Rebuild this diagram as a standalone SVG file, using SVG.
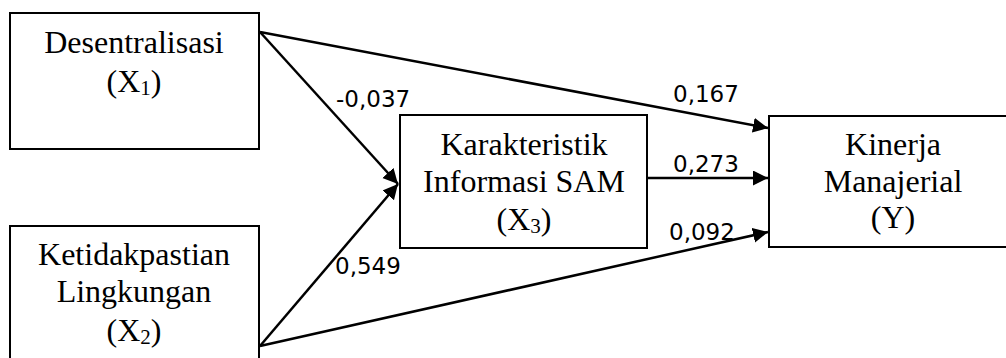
<svg xmlns="http://www.w3.org/2000/svg" width="1006" height="358" viewBox="0 0 1006 358">
<style>
.box{fill:#fff;stroke:#000;stroke-width:2}
.t{font-family:"Liberation Serif","Times New Roman",serif;font-size:32px;fill:#000;text-anchor:middle}
.sub{font-size:21px}
.c{fill:none;stroke:#000;stroke-width:2.5;marker-end:url(#ah)}
.lbl{font-family:"DejaVu Sans",Verdana,sans-serif;font-size:23px;fill:#000}
</style>
<defs>
<marker id="ah" markerUnits="userSpaceOnUse" markerWidth="16" markerHeight="16" refX="15" refY="7.5" orient="auto" viewBox="0 0 16 16">
<path d="M0,0 L15,7.5 L0,15 z" fill="#000"/>
</marker>
</defs>
<rect width="1006" height="358" fill="#fff"/>
<g id="connectors">
<path class="c" d="M260,32 L768,128"/>
<path class="c" d="M260,32 L398,184"/>
<path class="c" d="M260,346 L398,184"/>
<path class="c" d="M260,346 L768,232"/>
<path class="c" d="M648,178 L768,178"/>
<text class="lbl" x="336" y="107">-0,037</text>
<text class="lbl" x="335" y="274">0,549</text>
<text class="lbl" x="673" y="102">0,167</text>
<text class="lbl" x="673" y="172">0,273</text>
<text class="lbl" x="669" y="240">0,092</text>
</g>
<g id="node-x1">
<rect class="box" x="10" y="13" width="249" height="136"/>
<text class="t" x="134" y="53">Desentralisasi</text>
<text class="t" x="134" y="92">(X<tspan class="sub" dy="3">1</tspan><tspan dy="-3">)</tspan></text>
</g>
<g id="node-x2">
<rect class="box" x="10" y="226" width="249" height="145"/>
<text class="t" x="134" y="265">Ketidakpastian</text>
<text class="t" x="134" y="302">Lingkungan</text>
<text class="t" x="134" y="341">(X<tspan class="sub" dy="3">2</tspan><tspan dy="-3">)</tspan></text>
</g>
<g id="node-x3">
<rect class="box" x="400" y="115" width="247" height="133"/>
<text class="t" x="524" y="155">Karakteristik</text>
<text class="t" x="524" y="192">Informasi SAM</text>
<text class="t" x="524" y="230">(X<tspan class="sub" dy="3">3</tspan><tspan dy="-3">)</tspan></text>
</g>
<g id="node-y">
<rect class="box" x="769" y="116" width="260" height="131"/>
<text class="t" x="893" y="155">Kinerja</text>
<text class="t" x="893" y="192">Manajerial</text>
<text class="t" x="893" y="228">(Y)</text>
</g>
</svg>
